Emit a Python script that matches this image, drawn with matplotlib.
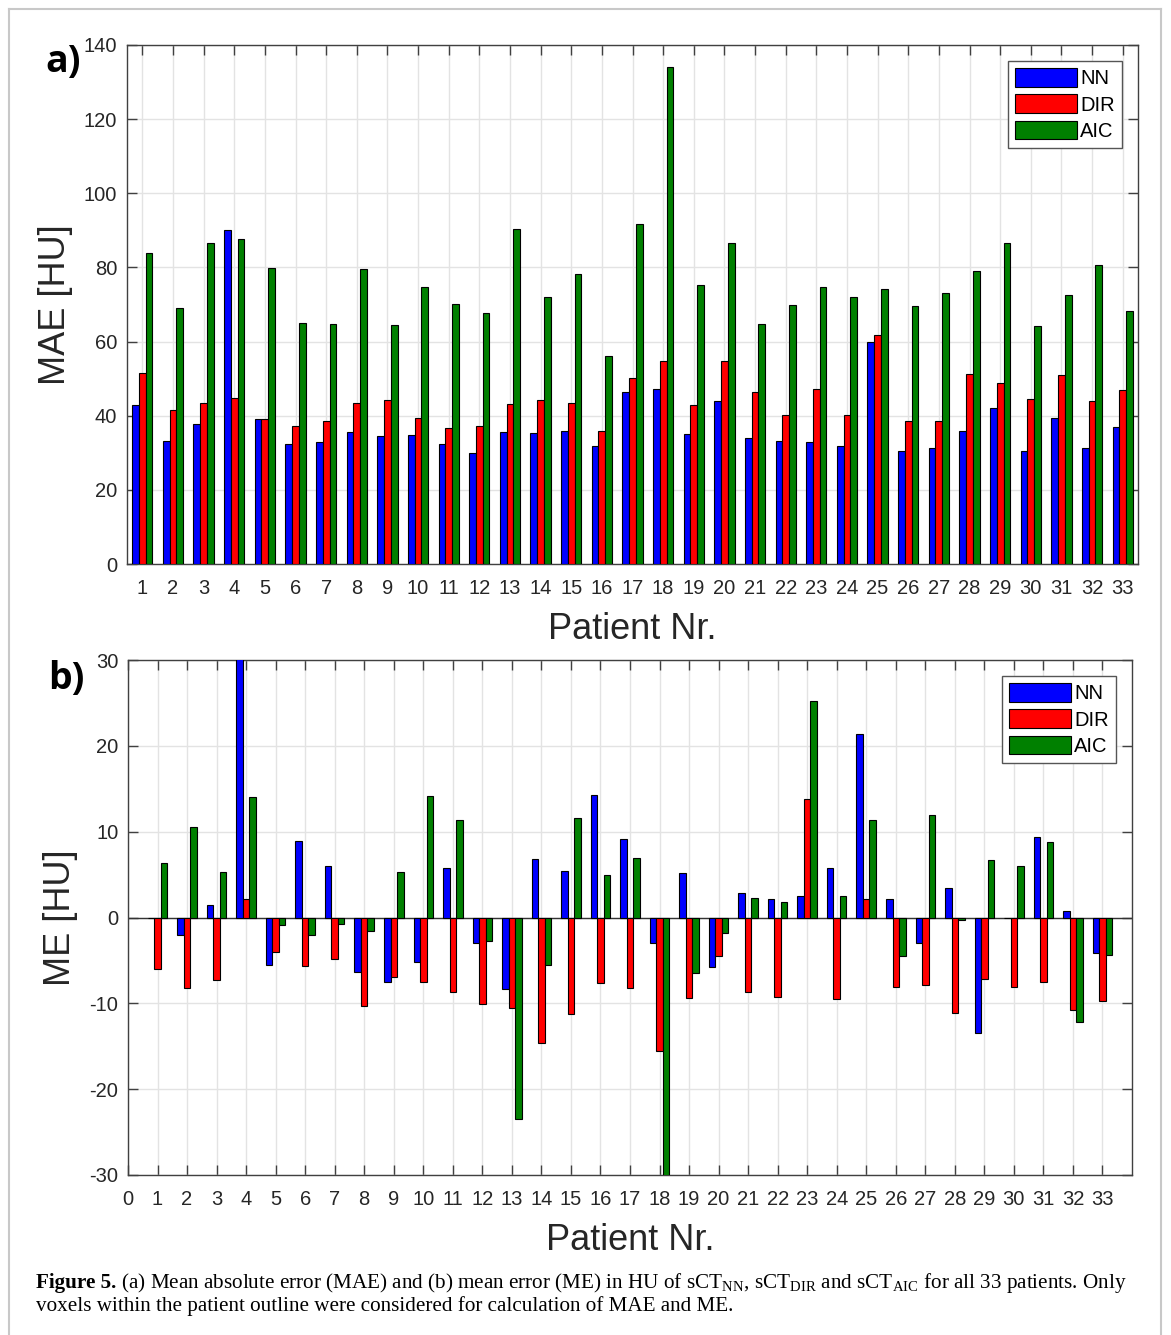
import numpy as np
import matplotlib
matplotlib.use("Agg")
from matplotlib import pyplot as plt
from matplotlib.lines import Line2D

# patients 1..33
patients = np.arange(1, 34)

# (a) mean absolute error [HU]
mae_nn = [42.8, 33.2, 37.7, 90.2, 39.0, 32.3, 32.9, 35.5, 34.5, 34.7, 32.4,
          30.0, 35.5, 35.3, 35.9, 31.8, 46.4, 47.3, 35.0, 44.1, 33.9, 33.2,
          32.9, 31.7, 59.8, 30.5, 31.3, 35.9, 42.1, 30.4, 39.3, 31.2, 36.9]
mae_dir = [51.4, 41.6, 43.4, 44.8, 39.0, 37.3, 38.5, 43.4, 44.2, 39.4, 36.6,
           37.2, 43.1, 44.2, 43.5, 35.9, 50.2, 54.8, 42.9, 54.8, 46.5, 40.1,
           47.3, 40.1, 61.7, 38.5, 38.5, 51.2, 48.7, 44.5, 50.9, 43.9, 46.9]
mae_aic = [83.8, 69.0, 86.6, 87.6, 79.8, 65.0, 64.7, 79.7, 64.5, 74.6, 70.2,
           67.7, 90.4, 72.0, 78.2, 56.1, 91.7, 134.0, 75.3, 86.6, 64.8, 69.8,
           74.7, 72.1, 74.3, 69.6, 73.1, 79.0, 86.5, 64.1, 72.6, 80.7, 68.2]

# (b) mean error [HU]
me_nn = [-0.1, -2.0, 1.4, 30.9, -5.5, 8.9, 6.0, -6.4, -7.5, -5.2, 5.75,
         -3.0, -8.3, 6.8, 5.4, 14.3, 9.2, -3.0, 5.2, -5.75, 2.9, 2.2,
         2.5, 5.75, 21.4, 2.2, -3.0, 3.4, -13.5, -0.1, 9.4, 0.8, -4.1]
me_dir = [-6.0, -8.2, -7.3, 2.2, -4.0, -5.6, -4.8, -10.3, -6.9, -7.5, -8.7,
          -10.1, -10.6, -14.6, -11.2, -7.6, -8.2, -15.6, -9.4, -4.5, -8.7, -9.25,
          13.8, -9.5, 2.2, -8.1, -7.9, -11.1, -7.2, -8.1, -7.5, -10.8, -9.75]
me_aic = [6.4, 10.6, 5.3, 14.0, -0.9, -2.0, -0.7, -1.6, 5.3, 14.2, 11.4,
          -2.7, -23.5, -5.5, 11.6, 4.9, 6.9, -33.6, -6.5, -1.8, 2.3, 1.75,
          25.2, 2.5, 11.4, -4.5, 12.0, -0.3, 6.7, 6.0, 8.8, -12.2, -4.4]

labels = ['NN', 'DIR', 'AIC']
colors = ['#0000ff', '#ff0000', '#008000']

plt.rcParams['font.family'] = ['Liberation Sans', 'DejaVu Sans']
plt.rcParams['axes.unicode_minus'] = False
plt.rcParams['mathtext.fontset'] = 'custom'
plt.rcParams['mathtext.rm'] = 'Liberation Serif'
plt.rcParams['mathtext.bf'] = 'Liberation Serif:bold'

W, H = 1171, 1335
fig = plt.figure(figsize=(W / 100, H / 100), dpi=100)

axis_col = '#404040'
text_col = '#262626'


def draw_panel(ax, series, xlim, ylim, yticks, xticks, ylabel):
    width = 0.22
    for k, (vals, lab, col) in enumerate(zip(series, labels, colors)):
        ax.bar(patients + (k - 1) * width, vals, width=width, color=col,
               edgecolor='black', linewidth=0.8, label=lab, zorder=3)
    ax.set_xlim(*xlim)
    ax.set_ylim(*ylim)
    ax.set_xticks(xticks)
    ax.set_yticks(yticks)
    ax.grid(True, color='#e3e3e3', linewidth=1.0)
    ax.set_axisbelow(True)
    ax.tick_params(direction='in', length=7, width=1.0, top=True, right=True,
                   labelsize=14.5, colors=axis_col, labelcolor=text_col, pad=7)
    ax.tick_params(axis='x', pad=11)
    for sp in ax.spines.values():
        sp.set_color(axis_col)
        sp.set_linewidth(1.0)
    ax.set_xlabel('Patient Nr.', fontsize=26, color=text_col, labelpad=10)
    ax.set_ylabel(ylabel, fontsize=26, color=text_col, labelpad=8)
    handles = [plt.Rectangle((0, 0), 1, 1, facecolor=c, edgecolor='black', linewidth=0.8)
               for c in colors]
    leg = ax.legend(handles, labels, loc='upper right', fontsize=14.5,
                    handlelength=3.1, handleheight=1.05, handletextpad=0.15,
                    labelspacing=0.3, borderpad=0.35, borderaxespad=0.8,
                    fancybox=False, framealpha=1, edgecolor='#555555')
    leg.get_frame().set_linewidth(1.0)
    for t in leg.get_texts():
        t.set_color('black')


# panel a
ax1 = fig.add_axes([127 / W, 1 - 564 / H, 1011 / W, 519 / H])
draw_panel(ax1, [mae_nn, mae_dir, mae_aic], (0.5, 33.5), (0, 140),
           np.arange(0, 141, 20), patients, 'MAE [HU]')

# panel b
ax2 = fig.add_axes([128 / W, 1 - 1175 / H, 1004 / W, 515 / H])
draw_panel(ax2, [me_nn, me_dir, me_aic], (0, 34), (-30, 30),
           np.arange(-30, 31, 10), np.arange(0, 34), 'ME [HU]')
ax2.axhline(0, color='#333333', linewidth=1.0, zorder=2)

fig.text(45 / W, 1 - 72 / H, 'a)', fontsize=27, fontweight='bold',
         family='Open Sans', va='baseline', ha='left')
fig.text(48 / W, 1 - 689 / H, 'b)', fontsize=27, fontweight='bold',
         family='Open Sans', va='baseline', ha='left')

# outer frame
frame_col = '#c8c8c8'
fig.add_artist(Line2D([9 / W, 9 / W], [0, 1 - 9 / H], transform=fig.transFigure,
                      color=frame_col, lw=1.5))
fig.add_artist(Line2D([9 / W, 1161 / W], [1 - 9 / H, 1 - 9 / H], transform=fig.transFigure,
                      color=frame_col, lw=1.5))
fig.add_artist(Line2D([1161 / W, 1161 / W], [0, 1 - 9 / H], transform=fig.transFigure,
                      color=frame_col, lw=1.5))

# caption
cap_size = 15.2
head = fig.text(36 / W, 1 - 1288 / H, 'Figure 5.', fontsize=cap_size,
                family='Liberation Serif', fontweight='bold', va='baseline', ha='left')
renderer = fig.canvas.get_renderer()
head_right = head.get_window_extent(renderer).x1 / W
rest1 = (r' (a) Mean absolute error (MAE) and (b) mean error (ME) in HU of '
         r'sCT$_{\mathrm{NN}}$, sCT$_{\mathrm{DIR}}$ and sCT$_{\mathrm{AIC}}$ for all 33 patients. Only')
fig.text(head_right, 1 - 1288 / H, rest1, fontsize=cap_size, family='Liberation Serif',
         va='baseline', ha='left', color='black')
line2 = 'voxels within the patient outline were considered for calculation of MAE and ME.'
fig.text(36 / W, 1 - 1311 / H, line2, fontsize=cap_size, family='Liberation Serif',
         va='baseline', ha='left', color='black')

fig.savefig('out.png', dpi=100)
